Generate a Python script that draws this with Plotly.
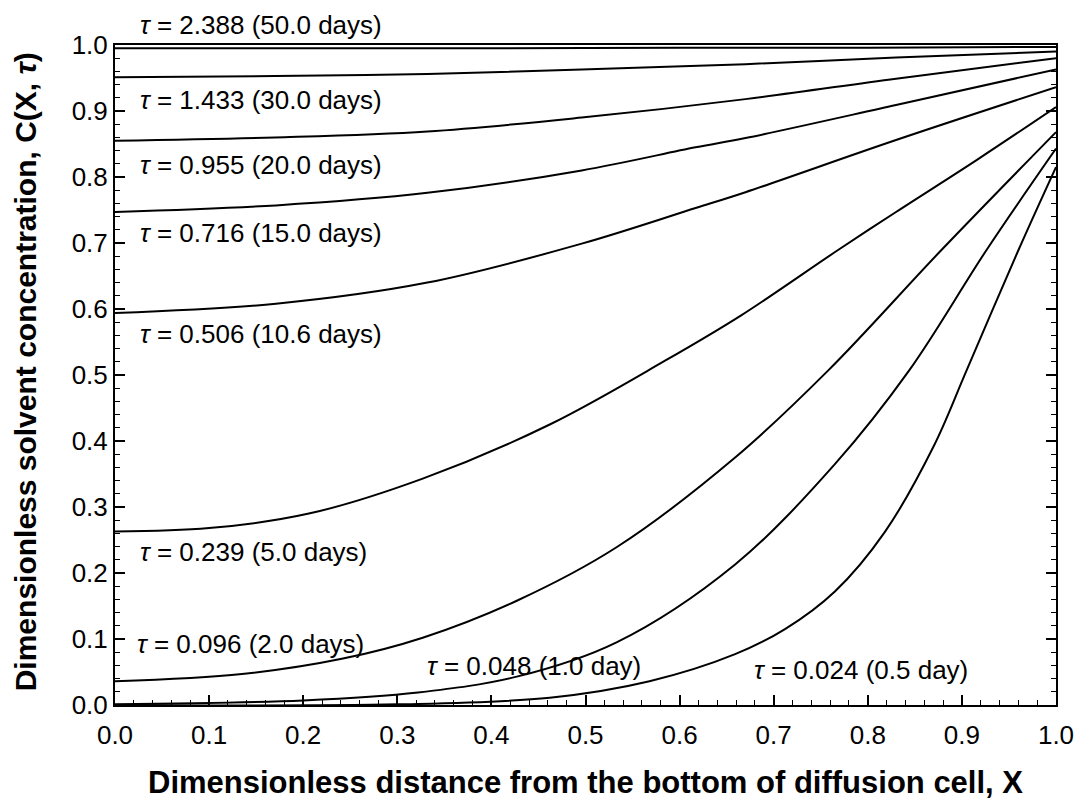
import plotly.graph_objects as go

# Dimensionless distance X and concentration C(X, tau) for each time
x_50d = [0.0, 0.2, 0.4, 0.6, 0.8, 1.0]
c_50d = [0.995, 0.995, 0.995, 0.996, 0.996, 0.997]

x_30d = [0.0, 0.17, 0.332, 0.496, 0.67, 0.83, 1.0]
c_30d = [0.951, 0.953, 0.956, 0.963, 0.971, 0.981, 0.990]

x_20d = [0.0, 0.17, 0.332, 0.496, 0.67, 0.83, 1.0]
c_20d = [0.855, 0.860, 0.869, 0.890, 0.918, 0.949, 0.980]

x_15d = [0.0, 0.171, 0.332, 0.496, 0.617, 0.67, 0.83, 1.0]
c_15d = [0.747, 0.757, 0.776, 0.810, 0.845, 0.859, 0.909, 0.963]

x_10d = [0.0, 0.171, 0.332, 0.496, 0.617, 0.67, 0.83, 1.0]
c_10d = [0.594, 0.608, 0.640, 0.699, 0.753, 0.777, 0.856, 0.936]

x_5d = [0.0, 0.10, 0.206, 0.327, 0.462, 0.585, 0.665, 0.768, 0.83, 0.916, 1.0]
c_5d = [0.263, 0.268, 0.290, 0.343, 0.425, 0.522, 0.590, 0.689, 0.747, 0.826, 0.906]

x_2d = [0.0, 0.135, 0.241, 0.327, 0.427, 0.533, 0.659, 0.758, 0.878, 1.0]
c_2d = [0.036, 0.047, 0.070, 0.102, 0.158, 0.239, 0.375, 0.507, 0.689, 0.868]

x_1d = [0.0, 0.2, 0.322, 0.427, 0.533, 0.659, 0.765, 0.844, 0.926, 1.0]
c_1d = [0.001, 0.007, 0.019, 0.043, 0.095, 0.213, 0.365, 0.507, 0.689, 0.843]

x_05d = [0.0, 0.3, 0.462, 0.568, 0.659, 0.712, 0.765, 0.818, 0.870, 0.905, 0.960, 1.0]
c_05d = [0.0, 0.001, 0.011, 0.036, 0.077, 0.115, 0.172, 0.262, 0.392, 0.507, 0.689, 0.815]

curves = [
    (x_50d, c_50d), (x_30d, c_30d), (x_20d, c_20d), (x_15d, c_15d),
    (x_10d, c_10d), (x_5d, c_5d), (x_2d, c_2d), (x_1d, c_1d), (x_05d, c_05d),
]

# Curve labels: tau value, duration text, left edge x and centre y (axis fractions)
label_tau = ["2.388", "1.433", "0.955", "0.716", "0.506", "0.239", "0.096", "0.048", "0.024"]
label_days = ["50.0 days", "30.0 days", "20.0 days", "15.0 days", "10.6 days",
              "5.0 days", "2.0 days", "1.0 day", "0.5 day"]
label_x = [0.024, 0.024, 0.024, 0.024, 0.024, 0.024, 0.021, 0.329, 0.677]
label_y = [1.030, 0.917, 0.818, 0.715, 0.562, 0.232, 0.092, 0.059, 0.053]

FONT = "Liberation Sans, Arial, sans-serif"

fig = go.Figure()
for xs, cs in curves:
    fig.add_trace(go.Scatter(
        x=xs, y=cs, mode="lines",
        line=dict(color="black", width=2, shape="spline", smoothing=1.0),
        showlegend=False, hoverinfo="skip",
    ))

for tau, days, lx, ly in zip(label_tau, label_days, label_x, label_y):
    fig.add_annotation(
        x=lx, y=ly, xref="paper", yref="paper", xanchor="left", yanchor="middle",
        text=f"<i>τ</i> = {tau} ({days})", showarrow=False,
        font=dict(family=FONT, size=26, color="black"),
    )

# Vertical axis title, placed as a rotated annotation left of the tick labels
fig.add_annotation(
    x=-0.095, y=0.505, xref="paper", yref="paper", xanchor="center", yanchor="middle",
    textangle=-90, showarrow=False,
    text="<b>Dimensionless solvent concentration, C(X, <i>τ</i>)</b>",
    font=dict(family=FONT, size=30, color="black"),
)

tick_font = dict(family=FONT, size=26, color="black")
ticks_01 = [i / 10 for i in range(11)]
tick_text = [f"{v:.1f}" for v in ticks_01]

fig.update_xaxes(
    range=[0, 1], tickvals=ticks_01, ticktext=tick_text,
    ticks="inside", ticklen=10, tickwidth=1.5, tickcolor="black",
    minor=dict(ticks="inside", dtick=0.02, ticklen=5, tickwidth=1.2, tickcolor="black"),
    showline=True, linecolor="black", linewidth=2, mirror=True,
    showgrid=False, zeroline=False, tickfont=tick_font, ticklabelstandoff=6,
    title=dict(text="<b>Dimensionless distance from the bottom of diffusion cell, X</b>",
               font=dict(family=FONT, size=31, color="black"), standoff=22),
)
fig.update_yaxes(
    range=[0, 1], tickvals=ticks_01, ticktext=tick_text,
    ticks="inside", ticklen=10, tickwidth=1.5, tickcolor="black",
    minor=dict(ticks="inside", dtick=0.02, ticklen=5, tickwidth=1.2, tickcolor="black"),
    showline=True, linecolor="black", linewidth=2, mirror="ticks",
    showgrid=False, zeroline=False, tickfont=tick_font,
)

fig.update_layout(
    width=1086, height=811,
    margin=dict(l=115, r=23, t=45, b=106),
    plot_bgcolor="white", paper_bgcolor="white",
)

fig.write_html("out.html")
